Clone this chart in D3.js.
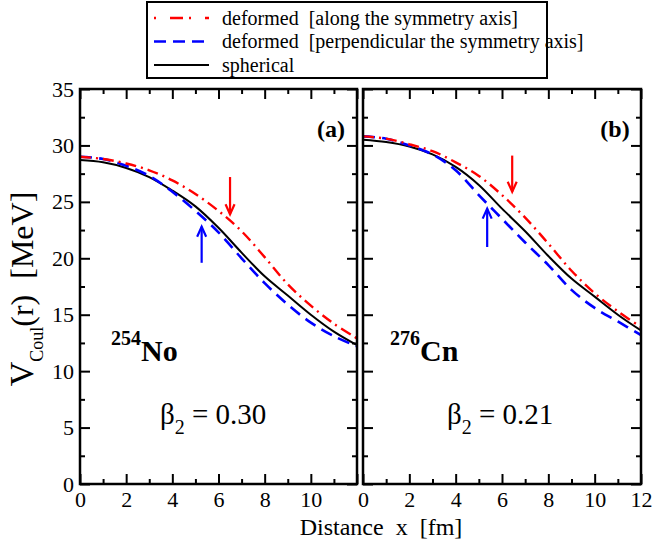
<!DOCTYPE html>
<html>
<head>
<meta charset="utf-8">
<script src="https://cdn.jsdelivr.net/npm/d3@7"></script>
</head>
<body style="margin:0">
<svg id="chart" width="652" height="546"></svg>
<script>
// Distance from the nuclear centre [fm]
const distance = [0, 1, 2, 3, 4, 5, 6, 7, 8, 9, 10, 11, 12];

// 254No, beta2 = 0.30 : Coulomb potential [MeV]
const noAlong = [29.0, 28.8, 28.4, 27.8, 26.9, 25.7, 24.2, 22.4, 20.1, 17.7, 15.8, 14.2, 12.9];
const noPerp  = [29.0, 28.8, 28.2, 27.3, 25.9, 24.2, 22.3, 20.0, 17.8, 15.9, 14.3, 13.1, 12.2];
const noSph   = [28.7, 28.5, 28.0, 27.2, 26.0, 24.6, 22.7, 20.5, 18.4, 16.7, 15.0, 13.5, 12.3];

// 276Cn, beta2 = 0.21 : Coulomb potential [MeV]
const cnAlong = [30.8, 30.6, 30.1, 29.5, 28.5, 27.3, 25.6, 23.6, 21.3, 18.9, 16.9, 15.3, 13.9];
const cnPerp  = [30.8, 30.6, 30.0, 29.2, 27.8, 25.6, 23.5, 21.4, 19.4, 17.2, 15.6, 14.4, 13.2];
const cnSph   = [30.5, 30.3, 29.9, 29.2, 28.1, 26.5, 24.4, 22.4, 20.2, 18.2, 16.6, 15.0, 13.6];

// Arrows marking the radius along / perpendicular to the symmetry axis
const noArrows = [
  { series: "along", x: 6.5, from: 27.2, to: 23.9 },
  { series: "perp",  x: 5.27, from: 19.6, to: 22.8 }
];
const cnArrows = [
  { series: "along", x: 6.44, from: 29.1, to: 25.9 },
  { series: "perp",  x: 5.36, from: 21.0, to: 24.4 }
];

const NB = "\u00a0";
const legendLabels = [
  "deformed" + NB + NB + "[along the symmetry axis]",
  "deformed" + NB + NB + "[perpendicular the symmetry axis]",
  "spherical"
];
const xTicks = [0, 2, 4, 6, 8, 10, 12];
const xMinor = [1, 3, 5, 7, 9, 11];
const yTicks = [0, 5, 10, 15, 20, 25, 30, 35];
const yMinor = [2.5, 7.5, 12.5, 17.5, 22.5, 27.5, 32.5];

const FONT = '"Times"';

const styles = {
  along: { color: "#ff0000", width: 2.4, dash: "11,5,2,5" },
  perp:  { color: "#0000ff", width: 2.6, dash: "12,7" },
  sph:   { color: "#000000", width: 2.0, dash: null }
};

const svg = d3.select("#chart");
svg.append("rect").attr("width", 652).attr("height", 546).attr("fill", "#fff");

const plotTop = 89, plotBottom = 484;
const y = d3.scaleLinear().domain([0, 35]).range([plotBottom, plotTop]);

const panels = [
  { id: "a", left: 80, right: 357, tag: "(a)", nucleus: ["254", "No"], beta: "0.30",
    along: noAlong, perp: noPerp, sph: noSph, arrows: noArrows, xLabels: [0, 2, 4, 6, 8, 10], yLabels: true },
  { id: "b", left: 363, right: 641, tag: "(b)", nucleus: ["276", "Cn"], beta: "0.21",
    along: cnAlong, perp: cnPerp, sph: cnSph, arrows: cnArrows, xLabels: xTicks, yLabels: false }
];

panels.forEach(p => {
  const x = d3.scaleLinear().domain([0, 12]).range([p.left, p.right]);
  const g = svg.append("g");

  g.append("clipPath").attr("id", "clip-" + p.id)
    .append("rect").attr("x", p.left).attr("y", plotTop)
    .attr("width", p.right - p.left).attr("height", plotBottom - plotTop);

  const line = d3.line()
    .x((d, i) => x(distance[i]))
    .y(d => y(d))
    .curve(d3.curveCatmullRom.alpha(0.5));

  const plot = g.append("g").attr("clip-path", `url(#clip-${p.id})`);
  ["sph", "perp", "along"].forEach(key => {
    const s = styles[key];
    plot.append("path")
      .attr("d", line(p[key]))
      .attr("fill", "none")
      .attr("stroke", s.color)
      .attr("stroke-width", s.width)
      .attr("stroke-dasharray", s.dash);
  });

  // arrows
  p.arrows.forEach(a => {
    const c = styles[a.series].color;
    const ax = x(a.x), y0 = y(a.from), y1 = y(a.to);
    const dir = y1 > y0 ? 1 : -1;
    g.append("line").attr("x1", ax).attr("x2", ax).attr("y1", y0).attr("y2", y1)
      .attr("stroke", c).attr("stroke-width", 2.2);
    g.append("path")
      .attr("d", `M${ax - 4.5},${y1 - dir * 10}L${ax},${y1}L${ax + 4.5},${y1 - dir * 10}`)
      .attr("fill", "none").attr("stroke", c).attr("stroke-width", 2.2);
  });

  // axes: major and minor ticks on all four sides, pointing inward
  const fmt = d => (p.xLabels.includes(d) ? d : "");
  g.append("g").attr("transform", `translate(0,${plotBottom})`)
    .call(d3.axisBottom(x).tickValues(xTicks).tickSize(-10).tickPadding(7).tickFormat(fmt));
  g.append("g").attr("transform", `translate(0,${plotBottom})`)
    .call(d3.axisBottom(x).tickValues(xMinor).tickSize(-5).tickFormat(""));
  g.append("g").attr("transform", `translate(0,${plotTop})`)
    .call(d3.axisTop(x).tickValues(xTicks).tickSize(-10).tickFormat(""));
  g.append("g").attr("transform", `translate(0,${plotTop})`)
    .call(d3.axisTop(x).tickValues(xMinor).tickSize(-5).tickFormat(""));
  g.append("g").attr("transform", `translate(${p.left},0)`)
    .call(d3.axisLeft(y).tickValues(yTicks).tickSize(-10).tickPadding(6)
      .tickFormat(p.yLabels ? d3.format("d") : ""));
  g.append("g").attr("transform", `translate(${p.left},0)`)
    .call(d3.axisLeft(y).tickValues(yMinor).tickSize(-5).tickFormat(""));
  g.append("g").attr("transform", `translate(${p.right},0)`)
    .call(d3.axisRight(y).tickValues(yTicks).tickSize(-10).tickFormat(""));
  g.append("g").attr("transform", `translate(${p.right},0)`)
    .call(d3.axisRight(y).tickValues(yMinor).tickSize(-5).tickFormat(""));

  g.selectAll(".domain").remove();
  g.selectAll(".tick line").attr("stroke", "#000").attr("stroke-width", 2);
  g.selectAll(".tick text").attr("font-size", 22);

  // frame
  g.append("rect").attr("x", p.left).attr("y", plotTop)
    .attr("width", p.right - p.left).attr("height", plotBottom - plotTop)
    .attr("fill", "none").attr("stroke", "#000").attr("stroke-width", 2.5);

  // panel tag
  g.append("text").attr("x", p.right - 26).attr("y", 137)
    .attr("text-anchor", "middle").attr("font-size", 24).attr("font-weight", "bold")
    .text(p.tag);

  // nucleus label
  const nuc = g.append("text").attr("x", p.left + (p.id === "a" ? 31 : 27)).attr("y", 361)
    .attr("font-weight", "bold");
  nuc.append("tspan").attr("font-size", 20).attr("dy", -16).text(p.nucleus[0]);
  nuc.append("tspan").attr("font-size", 30).attr("dy", 16).text(p.nucleus[1]);

  // deformation parameter
  const bt = g.append("text").attr("x", p.left + (p.id === "a" ? 80 : 84)).attr("y", 424)
    .attr("font-size", 29);
  bt.append("tspan").text("β");
  bt.append("tspan").attr("font-size", 20).attr("dy", 10).text("2");
  bt.append("tspan").attr("dy", -10).text(" = " + p.beta);
});

// y-axis title
const yt = svg.append("text")
  .attr("transform", "translate(33,289) rotate(-90)")
  .attr("text-anchor", "middle").attr("font-size", 32);
yt.append("tspan").attr("font-size", 34).text("V");
yt.append("tspan").attr("font-size", 18).attr("dy", 10).text("Coul");
yt.append("tspan").attr("dy", -10).text("(r)" + NB + NB + "[MeV]");

// x-axis title
svg.append("text").attr("x", 381).attr("y", 535)
  .attr("text-anchor", "middle").attr("font-size", 24)
  .text("Distance" + NB + NB + "x" + NB + NB + "[fm]");

// legend
const lg = svg.append("g");
lg.append("rect").attr("x", 147).attr("y", 2).attr("width", 400).attr("height", 76)
  .attr("fill", "#fff").attr("stroke", "#000").attr("stroke-width", 2);
["along", "perp", "sph"].forEach((key, i) => {
  const s = styles[key];
  const ly = 18 + i * 23.5;
  lg.append("line").attr("x1", 154).attr("x2", 209).attr("y1", ly).attr("y2", ly)
    .attr("stroke", s.color).attr("stroke-width", s.width)
    .attr("stroke-dasharray", key === "along" ? "2,14,13,6" : s.dash);
  lg.append("text").attr("x", 222).attr("y", ly + 6.5).attr("font-size", 20)
    .text(legendLabels[i]);
});

// typeface for every label
svg.selectAll("g").attr("font-family", null);
svg.selectAll("text").style("font-family", FONT).attr("fill", "#000");
</script>
</body>
</html>
